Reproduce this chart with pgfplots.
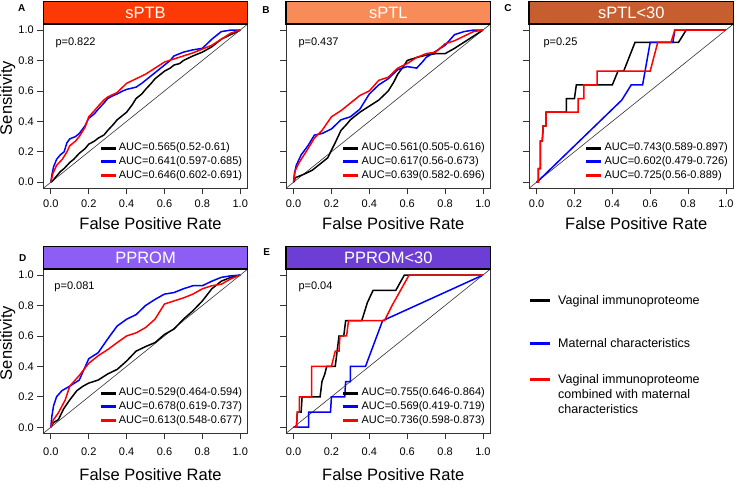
\documentclass[border=0pt]{standalone}
\usepackage{fontspec}
\setmainfont{Liberation Sans}
\usepackage{pgfplots}
\pgfplotsset{compat=1.18}

\definecolor{barA}{RGB}{252,58,5}
\definecolor{barB}{RGB}{248,140,88}
\definecolor{barC}{RGB}{198,94,48}
\definecolor{barD}{RGB}{140,94,246}
\definecolor{barE}{RGB}{108,62,214}

\pgfplotsset{
  roc/.style={
    scale only axis, width=204.5pt, height=164.3pt,
    xmin=-0.04, xmax=1.04, ymin=-0.04, ymax=1.04,
    xtick={0,0.2,0.4,0.6,0.8,1}, ytick={0,0.2,0.4,0.6,0.8,1},
    tick pos=left, tick align=outside, major tick length=6pt,
    axis line style={black!80, line width=0.8pt},
    tick style={black!80, line width=0.8pt},
    ticklabel style={font=\fontsize{11}{13}\selectfont},
    /pgf/number format/fixed, /pgf/number format/fixed zerofill,
    /pgf/number format/precision=1,
    /pgf/number format/assume math mode=true,
    clip mode=individual,
    xlabel={False Positive Rate},
    xlabel style={font=\fontsize{16.5}{19}\selectfont, at={(axis description cs:0.5,0)}, anchor=center, inner sep=0pt, xshift=5pt},
    ylabel style={font=\fontsize{16.5}{19}\selectfont, at={([xshift=-35.8pt]axis description cs:0,0.55)}, anchor=center},
    legend cell align=left,
    legend style={draw=none, fill=none, at={(1,0)}, anchor=south east,
      xshift=-4.5pt, yshift=6.3pt, inner sep=0pt, row sep=1.2pt, column sep=0.6pt,
      font=\fontsize{11}{13}\selectfont,
      nodes={inner sep=1pt, text height=8pt, text depth=2.5pt}},
    legend image code/.code={\draw[#1, line width=3pt] (0pt,0pt) -- (15pt,0pt);},
  },
  toprow/.style={xlabel style={yshift=-35pt}, xticklabel style={yshift=-1.5pt}},
  botrow/.style={xlabel style={yshift=-41pt}, xticklabel style={yshift=-4.5pt}},
  noylabels/.style={yticklabels={}},
  diag/.style={black!80, line width=0.6pt, forget plot},
  curve/.style={line width=1.5pt},
  biglegend/.style={hide axis, scale only axis, width=20pt, height=10pt, anchor=west,
    xmin=0, xmax=1, ymin=0, ymax=1, legend cell align=left,
    legend style={at={(0,0.5)}, anchor=west, draw=none, fill=none, inner sep=0pt,
      column sep=6.7pt, font=\fontsize{12.5}{15}\selectfont, nodes={inner sep=0pt}}},
}

\newcommand{\titlebar}[2]{%
  \draw[black, line width=1.2pt, fill=#1] (rel axis cs:0,1) rectangle ([yshift=22.5pt]rel axis cs:1,1);
  \node[text=white, font=\fontsize{16.5}{19}\selectfont] at ([yshift=11.25pt]rel axis cs:0.5,1) {#2};}

\begin{document}
\begin{tikzpicture}

% A: sPTB
\begin{axis}[roc, toprow, at={(43.3pt,295.7pt)}, anchor=south west, ylabel={Sensitivity}]
\addplot[diag] coordinates {(-0.04,-0.04) (1.04,1.04)};
\addplot[curve, black] coordinates {(0,0) (0.01,0.01) (0.03,0.04) (0.05,0.07) (0.07,0.09) (0.085,0.11) (0.1,0.13) (0.12,0.15) (0.15,0.19) (0.18,0.22) (0.2,0.25) (0.23,0.27) (0.25,0.29) (0.28,0.31) (0.3,0.34) (0.33,0.38) (0.35,0.41) (0.38,0.44) (0.4,0.46) (0.43,0.51) (0.45,0.55) (0.48,0.58) (0.5,0.61) (0.53,0.65) (0.55,0.68) (0.58,0.71) (0.6,0.73) (0.63,0.75) (0.65,0.77) (0.68,0.78) (0.7,0.8) (0.75,0.83) (0.8,0.855) (0.85,0.89) (0.9,0.94) (0.95,0.97) (1,1)};
\addplot[curve, blue] coordinates {(0,0) (0.005,0.045) (0.014,0.1) (0.03,0.15) (0.05,0.18) (0.07,0.2) (0.085,0.26) (0.1,0.285) (0.13,0.3) (0.15,0.32) (0.18,0.37) (0.2,0.42) (0.23,0.45) (0.25,0.48) (0.28,0.52) (0.3,0.55) (0.33,0.57) (0.35,0.58) (0.38,0.6) (0.4,0.61) (0.45,0.625) (0.48,0.65) (0.5,0.67) (0.53,0.7) (0.55,0.72) (0.58,0.75) (0.6,0.77) (0.63,0.8) (0.65,0.83) (0.7,0.855) (0.75,0.87) (0.8,0.88) (0.85,0.94) (0.88,0.97) (0.9,0.99) (0.95,1) (1,1)};
\addplot[curve, red] coordinates {(0,0) (0.01,0.055) (0.03,0.11) (0.06,0.15) (0.085,0.2) (0.1,0.24) (0.13,0.27) (0.15,0.3) (0.18,0.36) (0.2,0.43) (0.23,0.47) (0.25,0.5) (0.28,0.54) (0.3,0.56) (0.35,0.59) (0.4,0.65) (0.45,0.68) (0.5,0.71) (0.55,0.75) (0.6,0.79) (0.65,0.81) (0.7,0.83) (0.75,0.85) (0.8,0.875) (0.85,0.9) (0.9,0.94) (0.95,0.98) (1,1)};
\addlegendentry{AUC=0.565(0.52-0.61)}
\addlegendentry{AUC=0.641(0.597-0.685)}
\addlegendentry{AUC=0.646(0.602-0.691)}
\titlebar{barA}{sPTB}
\node[font=\bfseries\fontsize{10}{12}\selectfont] at ([xshift=-21.5pt,yshift=15.5pt]rel axis cs:0,1) {A};
\node[anchor=west, inner sep=0pt, font=\fontsize{11}{13}\selectfont] at ([xshift=12pt,yshift=-19.3pt]rel axis cs:0,1) {p=0.822};
\end{axis}

% B: sPTL
\begin{axis}[roc, toprow, noylabels, at={(286pt,295.7pt)}, anchor=south west]
\addplot[diag] coordinates {(-0.04,-0.04) (1.04,1.04)};
\addplot[curve, black] coordinates {(0,0) (0.01,0.03) (0.03,0.04) (0.05,0.05) (0.076,0.065) (0.1,0.08) (0.13,0.11) (0.15,0.13) (0.18,0.16) (0.2,0.21) (0.22,0.26) (0.25,0.34) (0.28,0.38) (0.3,0.41) (0.35,0.46) (0.4,0.5) (0.45,0.54) (0.5,0.6) (0.53,0.66) (0.55,0.71) (0.58,0.76) (0.6,0.8) (0.65,0.82) (0.7,0.835) (0.75,0.845) (0.8,0.845) (0.85,0.88) (0.9,0.92) (0.95,0.96) (1,1)};
\addplot[curve, blue] coordinates {(0,0) (0.005,0.06) (0.014,0.11) (0.04,0.18) (0.076,0.24) (0.11,0.31) (0.15,0.32) (0.2,0.35) (0.25,0.41) (0.3,0.43) (0.35,0.48) (0.38,0.54) (0.4,0.58) (0.45,0.64) (0.5,0.68) (0.55,0.74) (0.6,0.76) (0.65,0.75) (0.68,0.79) (0.7,0.82) (0.75,0.86) (0.8,0.9) (0.85,0.97) (0.9,0.99) (0.95,1) (1,1)};
\addplot[curve, red] coordinates {(0,0) (0.005,0.05) (0.01,0.08) (0.03,0.13) (0.076,0.22) (0.11,0.29) (0.15,0.34) (0.2,0.43) (0.25,0.47) (0.3,0.52) (0.35,0.57) (0.4,0.6) (0.45,0.67) (0.5,0.69) (0.55,0.75) (0.6,0.78) (0.65,0.82) (0.7,0.845) (0.75,0.855) (0.8,0.91) (0.85,0.93) (0.9,0.96) (0.95,0.99) (1,1)};
\addlegendentry{AUC=0.561(0.505-0.616)}
\addlegendentry{AUC=0.617(0.56-0.673)}
\addlegendentry{AUC=0.639(0.582-0.696)}
\titlebar{barB}{sPTL}
\node[font=\bfseries\fontsize{10}{12}\selectfont] at ([xshift=-20pt,yshift=14pt]rel axis cs:0,1) {B};
\node[anchor=west, inner sep=0pt, font=\fontsize{11}{13}\selectfont] at ([xshift=12.3pt,yshift=-19.3pt]rel axis cs:0,1) {p=0.437};
\end{axis}

% C: sPTL<30
\begin{axis}[roc, toprow, noylabels, at={(529pt,295.7pt)}, anchor=south west]
\addplot[diag] coordinates {(-0.04,-0.04) (1.04,1.04)};
\addplot[curve, black] coordinates {(0,0) (0.01,0) (0.01,0.09) (0.02,0.09) (0.02,0.27) (0.03,0.27) (0.035,0.37) (0.05,0.37) (0.05,0.46) (0.157,0.46) (0.157,0.55) (0.2,0.55) (0.21,0.64) (0.4,0.64) (0.43,0.73) (0.46,0.73) (0.52,0.92) (0.75,0.92) (0.79,1) (1,1)};
\addplot[curve, blue] coordinates {(0,0) (0.01,0.01) (0.45,0.54) (0.5,0.64) (0.56,0.64) (0.6,0.92) (0.72,0.92) (0.73,1) (1,1)};
\addplot[curve, red] coordinates {(0,0) (0.01,0) (0.01,0.09) (0.02,0.09) (0.02,0.27) (0.03,0.27) (0.035,0.37) (0.05,0.37) (0.05,0.46) (0.22,0.46) (0.22,0.55) (0.25,0.55) (0.25,0.64) (0.32,0.64) (0.32,0.73) (0.6,0.73) (0.64,0.92) (0.71,0.92) (0.73,1) (1,1)};
\addlegendentry{AUC=0.743(0.589-0.897)}
\addlegendentry{AUC=0.602(0.479-0.726)}
\addlegendentry{AUC=0.725(0.56-0.889)}
\titlebar{barC}{sPTL<30}
\node[font=\bfseries\fontsize{10}{12}\selectfont] at ([xshift=-21pt,yshift=16pt]rel axis cs:0,1) {C};
\node[anchor=west, inner sep=0pt, font=\fontsize{11}{13}\selectfont] at ([xshift=14.3pt,yshift=-19.3pt]rel axis cs:0,1) {p=0.25};
\end{axis}

% D: PPROM
\begin{axis}[roc, botrow, at={(43.3pt,50.7pt)}, anchor=south west, ylabel={Sensitivity}]
\addplot[diag] coordinates {(-0.04,-0.04) (1.04,1.04)};
\addplot[curve, black] coordinates {(0,0) (0.014,0.03) (0.04,0.05) (0.067,0.12) (0.1,0.18) (0.137,0.24) (0.17,0.27) (0.2,0.29) (0.25,0.31) (0.3,0.35) (0.35,0.38) (0.4,0.435) (0.45,0.5) (0.5,0.53) (0.55,0.556) (0.6,0.61) (0.65,0.645) (0.7,0.71) (0.75,0.765) (0.8,0.83) (0.85,0.91) (0.9,0.96) (0.95,0.985) (1,1)};
\addplot[curve, blue] coordinates {(0,0) (0.005,0.07) (0.014,0.14) (0.03,0.2) (0.058,0.24) (0.1,0.27) (0.15,0.31) (0.2,0.45) (0.25,0.49) (0.3,0.58) (0.35,0.665) (0.4,0.71) (0.45,0.74) (0.5,0.8) (0.55,0.84) (0.6,0.875) (0.65,0.885) (0.7,0.91) (0.75,0.93) (0.8,0.93) (0.85,0.96) (0.9,0.985) (0.95,0.995) (1,1)};
\addplot[curve, red] coordinates {(0,0) (0.014,0.05) (0.04,0.095) (0.076,0.18) (0.1,0.27) (0.15,0.34) (0.2,0.42) (0.25,0.47) (0.3,0.51) (0.35,0.556) (0.4,0.6) (0.45,0.62) (0.5,0.655) (0.55,0.71) (0.6,0.81) (0.65,0.83) (0.7,0.85) (0.75,0.875) (0.8,0.91) (0.85,0.93) (0.9,0.94) (0.95,0.975) (1,1)};
\addlegendentry{AUC=0.529(0.464-0.594)}
\addlegendentry{AUC=0.678(0.619-0.737)}
\addlegendentry{AUC=0.613(0.548-0.677)}
\titlebar{barD}{PPROM}
\node[font=\bfseries\fontsize{10}{12}\selectfont] at ([xshift=-20.6pt,yshift=10.7pt]rel axis cs:0,1) {D};
\node[anchor=west, inner sep=0pt, font=\fontsize{11}{13}\selectfont] at ([xshift=11pt,yshift=-18.3pt]rel axis cs:0,1) {p=0.081};
\end{axis}

% E: PPROM<30
\begin{axis}[roc, botrow, noylabels, at={(286pt,50.7pt)}, anchor=south west]
\addplot[diag] coordinates {(-0.04,-0.04) (1.04,1.04)};
\addplot[curve, black] coordinates {(0,0) (0.015,0) (0.02,0.1) (0.04,0.1) (0.045,0.2) (0.14,0.2) (0.15,0.3) (0.165,0.35) (0.175,0.4) (0.22,0.4) (0.24,0.6) (0.265,0.6) (0.275,0.7) (0.36,0.7) (0.385,0.8) (0.39,0.82) (0.42,0.9) (0.54,0.9) (0.585,1) (1,1)};
\addplot[curve, blue] coordinates {(0,0) (0.08,0) (0.08,0.1) (0.195,0.1) (0.2,0.2) (0.27,0.2) (0.275,0.3) (0.3,0.3) (0.3,0.4) (0.38,0.4) (0.47,0.7) (1,1)};
\addplot[curve, red] coordinates {(0,0) (0.015,0) (0.02,0.1) (0.03,0.1) (0.03,0.2) (0.095,0.2) (0.095,0.4) (0.2,0.4) (0.22,0.5) (0.24,0.5) (0.245,0.6) (0.28,0.6) (0.29,0.7) (0.48,0.7) (0.52,0.8) (0.61,1) (1,1)};
\addlegendentry{AUC=0.755(0.646-0.864)}
\addlegendentry{AUC=0.569(0.419-0.719)}
\addlegendentry{AUC=0.736(0.598-0.873)}
\titlebar{barE}{PPROM<30}
\node[font=\bfseries\fontsize{10}{12}\selectfont] at ([xshift=-19.3pt,yshift=17.3pt]rel axis cs:0,1) {E};
\node[anchor=west, inner sep=0pt, font=\fontsize{11}{13}\selectfont] at ([xshift=12.3pt,yshift=-18.3pt]rel axis cs:0,1) {p=0.04};
\end{axis}

% shared legend
\begin{axis}[biglegend, at={(528.3pt,183pt)}, legend image code/.code={\draw[#1] (0pt,0pt) -- (20pt,0pt);}]
\addlegendimage{black, line width=3pt}
\addlegendentry{Vaginal immunoproteome}
\end{axis}
\begin{axis}[biglegend, at={(528.3pt,140.7pt)}, legend image code/.code={\draw[#1] (0pt,0pt) -- (20pt,0pt);}]
\addlegendimage{blue, line width=3pt}
\addlegendentry{Maternal characteristics}
\end{axis}
\begin{axis}[biglegend, at={(528.3pt,89.7pt)}, legend image code/.code={\draw[#1] (0pt,15pt) -- (20pt,15pt);}]
\addlegendimage{red, line width=3pt}
\addlegendentry[align=left]{Vaginal immunoproteome\\combined with maternal\\characteristics}
\end{axis}

\pgfresetboundingbox
\path[use as bounding box] (0,0) rectangle (735pt,484pt);
\end{tikzpicture}
\end{document}
